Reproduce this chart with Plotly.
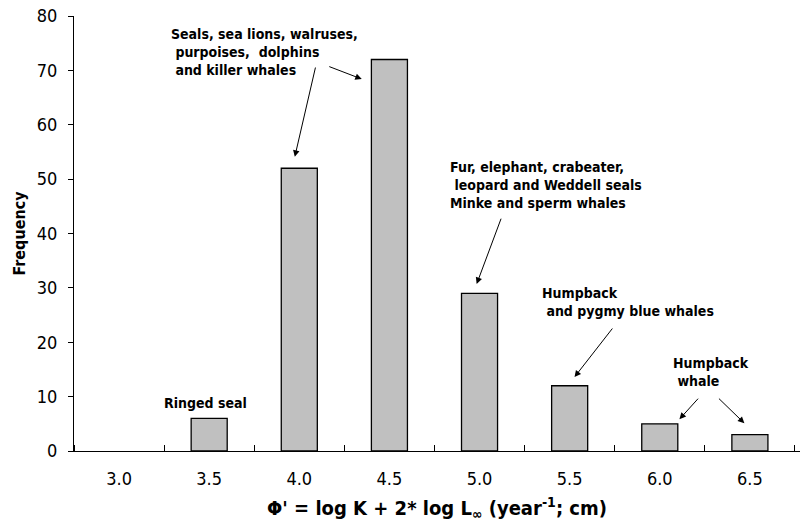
import plotly.graph_objects as go

categories = ["3.0", "3.5", "4.0", "4.5", "5.0", "5.5", "6.0", "6.5"]
frequency = [0, 6, 52, 72, 29, 12, 5, 3]

FONT = "Tahoma, 'DejaVu Sans Condensed', 'DejaVu Sans', sans-serif"

fig = go.Figure()
fig.add_trace(go.Bar(
    x=list(range(len(categories))), y=frequency,
    marker=dict(color="#C0C0C0",
                line=dict(color="black", width=[1.3 if v > 0 else 0 for v in frequency])),
    width=0.4,
))

labels = [
    dict(text="Seals, sea lions, walruses,<br> purpoises,  dolphins<br> and killer whales", x=0.553, y=78.6),
    dict(text="Fur, elephant, crabeater,<br> leopard and Weddell seals<br>Minke and sperm whales", x=3.646, y=54.0),
    dict(text="Humpback<br> and pygmy blue whales", x=4.666, y=30.9),
    dict(text="Humpback<br> whale", x=6.119, y=18.0),
]
for lab in labels:
    fig.add_annotation(x=lab["x"], y=lab["y"], xref="x", yref="y", text="<b>" + lab["text"] + "</b>",
                       showarrow=False, xanchor="left", yanchor="top", align="left",
                       font=dict(family=FONT, size=14, color="black"))
fig.add_annotation(x=0.958, y=8.8, xref="x", yref="y", text="<b>Ringed seal</b>",
                   showarrow=False, xanchor="center", yanchor="middle",
                   font=dict(family=FONT, size=14, color="black"))

arrows = [
    (1.95, 54.1, 2.183, 70.8),
    (2.693, 68.4, 2.316, 70.8),
    (3.968, 30.7, 4.245, 43.0),
    (5.054, 13.6, 5.487, 22.8),
    (6.218, 5.84, 6.44, 9.9),
    (6.939, 5.1, 6.64, 9.9),
]
for tx, ty, sx, sy in arrows:
    fig.add_annotation(x=tx, y=ty, ax=sx, ay=sy, xref="x", yref="y", axref="x", ayref="y",
                       text="", showarrow=True, arrowhead=2, arrowsize=1.3, arrowwidth=1,
                       arrowcolor="black")

fig.update_layout(
    width=800, height=532,
    margin=dict(l=74, r=0, t=16, b=81),
    paper_bgcolor="white", plot_bgcolor="white",
    showlegend=False,
    font=dict(family=FONT, size=18, color="black"),
    xaxis=dict(
        range=[-0.5, 7.556],
        tickmode="array", tickvals=list(range(len(categories))), ticktext=categories,
        showline=True, linecolor="black", linewidth=1,
        ticks="", showgrid=False, zeroline=False,
        ticklabelstandoff=11,
        tickfont=dict(family=FONT, size=18),
        title=dict(text="<b>Φ' = log K + 2* log L<sub>∞</sub> (year<sup>-1</sup>; cm)</b>",
                   font=dict(family=FONT, size=20), standoff=13),
        minor=dict(tickmode="array", tickvals=[i - 0.5 for i in range(len(categories) + 1)],
                   ticks="inside", ticklen=6, tickcolor="black", tickwidth=1, showgrid=False),
    ),
    yaxis=dict(
        range=[0, 80], dtick=10,
        showline=True, linecolor="black", linewidth=1,
        ticks="outside", ticklen=5, tickcolor="black",
        showgrid=False, zeroline=False,
        ticklabelstandoff=7,
        tickfont=dict(family=FONT, size=18),
        title=dict(text="<b>Frequency</b>", font=dict(family=FONT, size=16), standoff=7),
    ),
)

fig.write_html("out.html")
